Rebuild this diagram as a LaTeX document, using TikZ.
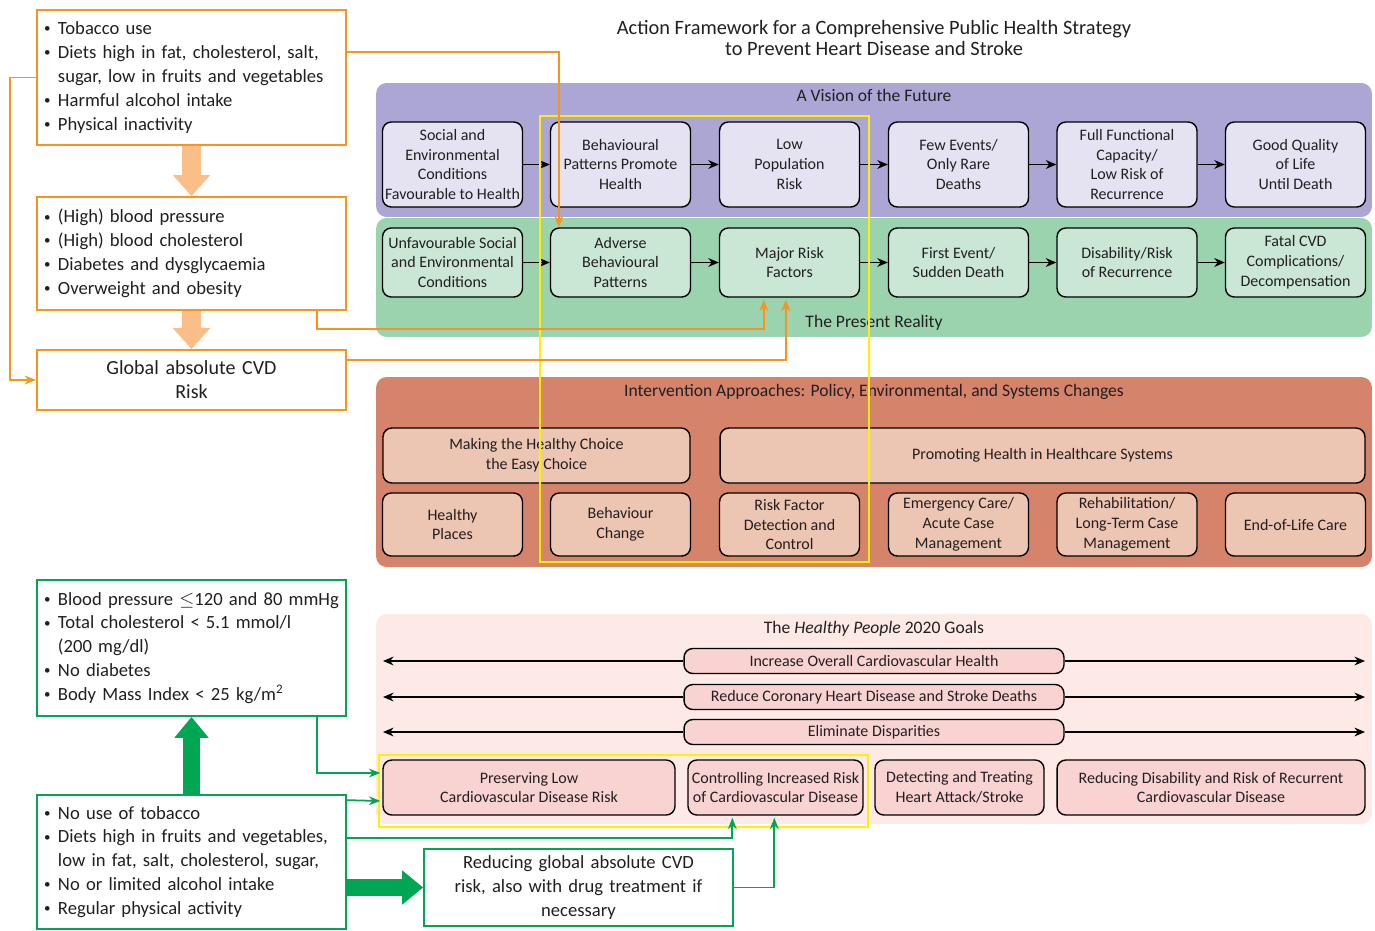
\documentclass[tikz,border=0pt]{standalone}
\usepackage{fontspec}
\setmainfont{Carlito}
\usepackage{tikz}
\usetikzlibrary{arrows.meta,calc,positioning}

\definecolor{riskorange}{HTML}{F7941E}
\definecolor{softorange}{HTML}{FABE86}
\definecolor{goalgreen}{HTML}{00A651}
\definecolor{hiliteyellow}{HTML}{FFEF00}
\definecolor{visionband}{HTML}{ABA6D4}
\definecolor{visionfill}{HTML}{E5E3F2}
\definecolor{realityband}{HTML}{9BD3AE}
\definecolor{realityfill}{HTML}{CAE7D5}
\definecolor{actionband}{HTML}{D5836A}
\definecolor{actionfill}{HTML}{EDC5B3}
\definecolor{goalband}{HTML}{FDEAE7}
\definecolor{goalfill}{HTML}{F9D3D1}
\definecolor{inktext}{HTML}{231F20}

\newcommand{\rowfont}{\fontsize{9.1}{11.3}\selectfont}
\newcommand{\sidefont}{\fontsize{10.6}{13.6}\selectfont}
\newcommand{\bandfont}{\fontsize{10}{11.5}\selectfont}
\newcommand{\bul}{\makebox[0.75em][l]{\raisebox{0.2ex}{\scalebox{0.7}{\textbullet}}}}
\newcommand{\ind}{\hspace*{0.75em}}

\tikzset{
  band/.style={rounded corners=6pt, minimum width=19.92cm, inner sep=0pt},
  bandtitle/.style={font=\bandfont, text=inktext},
  rowbox/.style={draw, line width=0.8pt, rounded corners=5pt, minimum width=2.8cm,
    align=center, font=\rowfont, text=inktext, inner sep=1pt},
  visionbox/.style={rowbox, fill=visionfill, minimum height=1.7cm},
  realitybox/.style={rowbox, fill=realityfill, minimum height=1.38cm},
  actionbox/.style={rowbox, fill=actionfill, minimum height=1.26cm},
  goalbox/.style={rowbox, fill=goalfill, minimum height=1.1cm},
  goalpill/.style={rowbox, fill=goalfill, minimum width=7.6cm, minimum height=0.5cm},
  sidebox/.style={draw, line width=1pt, fill=white, text width=5.9cm, align=left,
    inner xsep=0.14cm, font=\sidefont, text=inktext},
  riskbox/.style={sidebox, draw=riskorange},
  healthbox/.style={sidebox, draw=goalgreen},
  flowarrow/.style={line width=0.9pt, -{Stealth[length=6pt,width=5pt]}},
  oconn/.style={draw=riskorange, line width=1pt, -{Stealth[length=6.5pt,width=5pt]}},
  gconn/.style={draw=goalgreen, line width=1pt, -{Stealth[length=6.5pt,width=5pt]}},
  bigorange/.style={draw=softorange, line width=0.38cm, -{Triangle[length=0.42cm,width=0.72cm]}},
  biggreen/.style={draw=goalgreen, line width=0.34cm, -{Triangle[length=0.42cm,width=0.66cm]}},
  hilite/.style={draw=hiliteyellow, line width=1.4pt}
}

\begin{document}
\begin{tikzpicture}[x=0.02cm, y=-0.02cm]
    \useasboundingbox (0,0) rectangle (1375,930);

    % title
    \node[font=\fontsize{11.6}{11.5}\selectfont, align=center, text=inktext] (title) at (874,38)
      {Action Framework for a Comprehensive Public Health Strategy\\to Prevent Heart Disease and Stroke};

    % vision and reality bands
    \node[band, fill=visionband, minimum height=2.68cm] (visionband) at (874,150) {};
    \node[band, fill=realityband, minimum height=2.38cm] (realityband) at (874,277.5) {};
    \node[bandtitle] (visiontitle) at (874,95) {A Vision of the Future};
    \node[bandtitle] (realitytitle) at (874,323) {The Present Reality};

    \node[visionbox] (v1) at (452.5,164.5) {Social and\\Environmental\\Conditions\\Favourable to Health};
    \node[visionbox] (v2) at (620.5,164.5) {Behavioural\\Patterns Promote\\Health};
    \node[visionbox] (v3) at (789.5,164.5) {Low\\Population\\Risk};
    \node[visionbox] (v4) at (958.5,164.5) {Few Events/\\Only Rare\\Deaths};
    \node[visionbox] (v5) at (1127,164.5) {Full Functional\\Capacity/\\Low Risk of\\Recurrence};
    \node[visionbox] (v6) at (1295.5,164.5) {Good Quality\\of Life\\Until Death};

    \node[realitybox] (b1) at (452.5,262.5) {Unfavourable Social\\and Environmental\\Conditions};
    \node[realitybox] (b2) at (620.5,262.5) {Adverse\\Behavioural\\Patterns};
    \node[realitybox] (b3) at (789.5,262.5) {Major Risk\\Factors};
    \node[realitybox] (b4) at (958.5,262.5) {First Event/\\Sudden Death};
    \node[realitybox] (b5) at (1127,262.5) {Disability/Risk\\of Recurrence};
    \node[realitybox] (b6) at (1295.5,262.5) {Fatal CVD\\Complications/\\Decompensation};

    \draw[flowarrow] (v1) -- (v2);
    \draw[flowarrow] (v2) -- (v3);
    \draw[flowarrow] (v3) -- (v4);
    \draw[flowarrow] (v4) -- (v5);
    \draw[flowarrow] (v5) -- (v6);
    \draw[flowarrow] (b1) -- (b2);
    \draw[flowarrow] (b2) -- (b3);
    \draw[flowarrow] (b3) -- (b4);
    \draw[flowarrow] (b4) -- (b5);
    \draw[flowarrow] (b5) -- (b6);

    % intervention approaches
    \node[band, fill=actionband, minimum height=3.8cm] (actionband) at (874,472) {};
    \node[bandtitle] (actiontitle) at (874,392) {Intervention Approaches: Policy, Environmental, and Systems Changes};
    \node[actionbox, minimum width=6.14cm, minimum height=1.1cm] (easy) at (536.5,455.5) {Making the Healthy Choice\\the Easy Choice};
    \node[actionbox, minimum width=12.9cm, minimum height=1.1cm] (care) at (1042.5,455.5) {Promoting Health in Healthcare Systems};
    \node[actionbox] (i1) at (452.5,524.5) {Healthy\\Places};
    \node[actionbox] (i2) at (620.5,524.5) {Behaviour\\Change};
    \node[actionbox] (i3) at (789.5,524.5) {Risk Factor\\Detection and\\Control};
    \node[actionbox] (i4) at (958.5,524.5) {Emergency Care/\\Acute Case\\Management};
    \node[actionbox] (i5) at (1127,524.5) {Rehabilitation/\\Long-Term Case\\Management};
    \node[actionbox] (i6) at (1295.5,524.5) {End-of-Life Care};

    % healthy people goals
    \node[band, fill=goalband, minimum height=4.2cm] (goalband) at (874,719) {};
    \node[bandtitle] (goaltitle) at (874,629) {The \textit{Healthy People} 2020 Goals};
    \coordinate (gleft) at (383,0);
    \coordinate (gright) at (1365,0);
    \node[goalpill] (g1) at (874,661) {Increase Overall Cardiovascular Health};
    \node[goalpill] (g2) at (874,697) {Reduce Coronary Heart Disease and Stroke Deaths};
    \node[goalpill] (g3) at (874,732) {Eliminate Disparities};
    \draw[flowarrow] (g1.west) -- (g1.west -| gleft);
    \draw[flowarrow] (g1.east) -- (g1.east -| gright);
    \draw[flowarrow] (g2.west) -- (g2.west -| gleft);
    \draw[flowarrow] (g2.east) -- (g2.east -| gright);
    \draw[flowarrow] (g3.west) -- (g3.west -| gleft);
    \draw[flowarrow] (g3.east) -- (g3.east -| gright);
    \node[goalbox, minimum width=5.84cm] (p1) at (529,787.5) {Preserving Low\\Cardiovascular Disease Risk};
    \node[goalbox, minimum width=3.5cm] (p2) at (775.5,787.5) {Controlling Increased Risk\\of Cardiovascular Disease};
    \node[goalbox, minimum width=3.38cm] (p3) at (959.5,787.5) {Detecting and Treating\\Heart Attack/Stroke};
    \node[goalbox, minimum width=6.16cm] (p4) at (1211,787.5) {Reducing Disability and Risk of Recurrent\\Cardiovascular Disease};

    % yellow highlights
    \draw[hilite] (540,116) rectangle (869,562);
    \draw[hilite] (379,755) rectangle (868,827);

    % risk side (orange)
    \node[riskbox, minimum height=2.7cm] (riskA) at (191.5,77.5)
      {\bul Tobacco use\\\bul Diets high in fat, cholesterol, salt,\\\ind sugar, low in fruits and vegetables\\\bul Harmful alcohol intake\\\bul Physical inactivity};
    \node[riskbox, minimum height=2.26cm] (riskB) at (191.5,253.5)
      {\bul (High) blood pressure\\\bul (High) blood cholesterol\\\bul Diabetes and dysglycaemia\\\bul Overweight and obesity};
    \node[riskbox, align=center, minimum height=1.2cm, font=\fontsize{11.4}{13.6}\selectfont] (riskC) at (191.5,380)
      {Global absolute CVD\\Risk};
    \draw[bigorange] (riskA) -- (riskB);
    \draw[bigorange] (riskB) -- (riskC);
    \coordinate (lbus) at (10,0);
    \draw[oconn] (riskA.west) -- (riskA.west -| lbus) |- (riskC.west);
    \draw[oconn] ($(riskA.north east)+(0,43)$) -| ($(b2.north west)+(9,0)$);
    \draw[oconn] ($(riskB.south east)+(-30,0)$) |- ($(b3.south west)+(45,31)$) -- ($(b3.south west)+(45,2)$);
    \draw[oconn] ($(riskC.east)+(0,-20)$) -| ($(b3.south west)+(67,2)$);

    % health side (green)
    \node[healthbox, minimum height=2.72cm] (goalD) at (191.5,648)
      {\bul Blood pressure $\leq$120 and 80 mmHg\\\bul Total cholesterol < 5.1 mmol/l\\\ind (200 mg/dl)\\\bul No diabetes\\\bul Body Mass Index < 25 kg/m\textsuperscript{2}};
    \node[healthbox, minimum height=2.68cm] (goalE) at (191.5,862)
      {\bul No use of tobacco\\\bul Diets high in fruits and vegetables,\\\ind low in fat, salt, cholesterol, sugar,\\\bul No or limited alcohol intake\\\bul Regular physical activity};
    \node[healthbox, align=center, minimum height=1.54cm] (goalF) at (578.5,887.5)
      {Reducing global absolute CVD\\risk, also with drug treatment if\\necessary};
    \draw[biggreen] (goalE) -- (goalD);
    \draw[biggreen] (goalE.east |- goalF.west) -- (goalF.west);
    \draw[gconn] ($(goalD.south east)+(-30,0)$) |- ($(p1.west)+(-2,-14.5)$);
    \draw[gconn] ($(goalE.north east)+(0,6)$) -- ($(p1.west)+(-2,13.5)$);
    \draw[gconn] ($(goalE.north east)+(0,44)$) -| ($(p2.south west)+(45,2)$);
    \draw[gconn] (goalF.east) -| ($(p2.south west)+(87,2)$);
\end{tikzpicture}
\end{document}
